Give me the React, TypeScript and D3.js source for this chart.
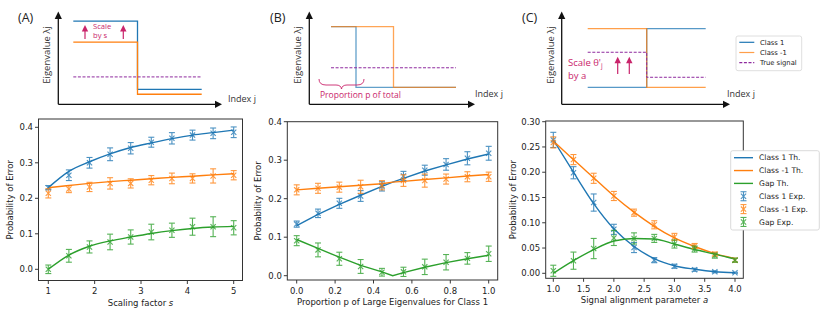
import { useEffect, useRef } from "react";
import * as d3 from "d3";

// ---------- panel A: scaling factor s ----------
const sVals = [1, 1.444, 1.889, 2.333, 2.778, 3.222, 3.667, 4.111, 4.556, 5];
const aClass1Th = [0.230, 0.276, 0.303, 0.325, 0.343, 0.356, 0.368, 0.378, 0.385, 0.392];
const aClass1Exp = [0.230, 0.265, 0.300, 0.324, 0.341, 0.358, 0.369, 0.378, 0.383, 0.386];
const aClass1Err = [0.006, 0.015, 0.015, 0.018, 0.016, 0.014, 0.016, 0.014, 0.015, 0.015];
const aClassM1Th = [0.230, 0.236, 0.242, 0.247, 0.251, 0.255, 0.259, 0.262, 0.266, 0.269];
const aClassM1Exp = [0.214, 0.226, 0.232, 0.242, 0.242, 0.251, 0.256, 0.256, 0.263, 0.265];
const aClassM1Err = [0.013, 0.010, 0.013, 0.016, 0.013, 0.013, 0.015, 0.013, 0.020, 0.013];
const aGapTh = [0.000, 0.040, 0.065, 0.080, 0.091, 0.101, 0.109, 0.115, 0.119, 0.121];
const aGapExp = [0.000, 0.038, 0.063, 0.077, 0.091, 0.105, 0.110, 0.120, 0.120, 0.117];
const aGapErr = [0.012, 0.018, 0.017, 0.022, 0.020, 0.022, 0.020, 0.024, 0.028, 0.020];

// ---------- panel B: proportion p ----------
const pVals = [0, 0.111, 0.222, 0.333, 0.444, 0.556, 0.667, 0.778, 0.889, 1];
const pThVals = [0, 0.111, 0.222, 0.333, 0.444, 0.5, 0.556, 0.667, 0.778, 0.889, 1];
const bClass1Th = [0.130, 0.159, 0.185, 0.209, 0.232, 0.243, 0.253, 0.272, 0.288, 0.303, 0.316];
const bClassM1Th = [0.223, 0.227, 0.231, 0.235, 0.239, 0.243, 0.245, 0.250, 0.254, 0.259, 0.263];
const bGapTh = [0.094, 0.071, 0.048, 0.027, 0.010, 0.000, 0.008, 0.022, 0.034, 0.044, 0.053];
const bClass1Exp = [0.134, 0.162, 0.188, 0.207, 0.232, 0.259, 0.274, 0.289, 0.305, 0.318];
const bClass1Err = [0.008, 0.011, 0.013, 0.014, 0.012, 0.012, 0.013, 0.015, 0.017, 0.018];
const bClassM1Exp = [0.223, 0.227, 0.230, 0.231, 0.235, 0.247, 0.247, 0.251, 0.257, 0.257];
const bClassM1Err = [0.013, 0.013, 0.013, 0.017, 0.012, 0.015, 0.017, 0.013, 0.013, 0.012];
const bGapExp = [0.091, 0.067, 0.044, 0.024, 0.009, 0.010, 0.023, 0.035, 0.045, 0.057];
const bGapErr = [0.013, 0.018, 0.017, 0.018, 0.010, 0.012, 0.020, 0.020, 0.015, 0.020];

// ---------- panel C: signal alignment a ----------
const aVals = [1, 1.333, 1.667, 2, 2.333, 2.667, 3, 3.333, 3.667, 4];
const cClass1Th = [0.264, 0.200, 0.138, 0.088, 0.053, 0.029, 0.015, 0.008, 0.003, 0.001];
const cClass1Exp = [0.264, 0.199, 0.140, 0.087, 0.051, 0.026, 0.014, 0.007, 0.003, 0.001];
const cClass1Err = [0.015, 0.012, 0.017, 0.010, 0.010, 0.005, 0.004, 0.003, 0.002, 0.001];
const cClassM1Th = [0.262, 0.225, 0.189, 0.153, 0.121, 0.093, 0.070, 0.053, 0.039, 0.029];
const cClassM1Exp = [0.259, 0.225, 0.188, 0.153, 0.120, 0.096, 0.072, 0.054, 0.038, 0.026];
const cClassM1Err = [0.011, 0.010, 0.010, 0.009, 0.007, 0.008, 0.007, 0.005, 0.004, 0.004];
const cGapTh = [0.000, 0.025, 0.047, 0.064, 0.069, 0.068, 0.058, 0.047, 0.038, 0.028];
const cGapExp = [0.005, 0.025, 0.049, 0.070, 0.069, 0.069, 0.058, 0.048, 0.035, 0.026];
const cGapErr = [0.011, 0.017, 0.020, 0.015, 0.011, 0.008, 0.008, 0.006, 0.005, 0.004];

// ticks
const aXTicks = [1, 2, 3, 4, 5];
const bXTicks = [0, 0.2, 0.4, 0.6, 0.8, 1.0];
const cXTicks = [1, 1.5, 2, 2.5, 3, 3.5, 4];
const abYTicks = [0, 0.1, 0.2, 0.3, 0.4];
const cYTicks = [0, 0.05, 0.1, 0.15, 0.2, 0.25, 0.3];

const legendLabels = ["Class 1 Th.", "Class -1 Th.", "Gap Th.", "Class 1 Exp.", "Class -1 Exp.", "Gap Exp."];
const schemLegend = ["Class 1", "Class -1", "True signal"];

// schematic step shapes (index fraction, eigenvalue 0..100)
const stepHalf = [0, 0.5, 0.5, 1];
const stepP = [0, 0.2, 0.2, 1];
const flat = [0, 1];
const schA1 = [91, 91, 16.4, 16.4];
const schAm1 = [68, 68, 11, 11];
const schASig = [30, 30];
const schB1 = [85, 85, 18.6, 18.6];
const schBm1 = [85, 85, 18.6, 18.6];
const schBSig = [40, 40];
const schC1 = [18.6, 18.6, 82.8, 82.8];
const schCm1 = [82.8, 82.8, 18.6, 18.6];
const schCSig = [57, 57, 29.6, 29.6];

const BLUE = "#1f77b4", ORANGE = "#ff7f0e", GREEN = "#2ca02c";
const CRIMSON = "#c9246b";
const PURPLE = "#8e2a9e";
const FONT = "DejaVu Sans";
const SFONT = "Open Sans";

function drawPanel(svg: any, p: any) {
  const g = svg.append("g");
  const x = d3.scaleLinear().domain(p.xDom).range(p.xRange);
  const y = d3.scaleLinear().domain(p.yDom).range(p.yRange);
  const [fl, fr, ft, fb] = p.frame;

  p.xTicks.forEach((t: number) => {
    g.append("line").attr("x1", x(t)).attr("x2", x(t)).attr("y1", fb).attr("y2", fb + 3.5)
      .attr("stroke", "#222").attr("stroke-width", 0.9);
    g.append("text").attr("x", x(t)).attr("y", fb + 13.5).attr("text-anchor", "middle")
      .attr("font-family", FONT).attr("font-size", 8.5).attr("fill", "#222").text(d3.format(p.xFmt)(t));
  });
  p.yTicks.forEach((t: number) => {
    g.append("line").attr("x1", fl - 3.5).attr("x2", fl).attr("y1", y(t)).attr("y2", y(t))
      .attr("stroke", "#222").attr("stroke-width", 0.9);
    g.append("text").attr("x", fl - 5.5).attr("y", y(t) + 3).attr("text-anchor", "end")
      .attr("font-family", FONT).attr("font-size", 8.5).attr("fill", "#222").text(d3.format(p.yFmt)(t));
  });
  const xl = g.append("text").attr("x", (fl + fr) / 2).attr("y", fb + 25).attr("text-anchor", "middle")
    .attr("font-family", FONT).attr("font-size", 8.5).attr("fill", "#222");
  xl.append("tspan").text(p.xLabel);
  if (p.xLabelVar) xl.append("tspan").attr("font-style", "italic").text(p.xLabelVar);
  g.append("text").attr("transform", `translate(${p.yLabelX},${(ft + fb) / 2}) rotate(-90)`)
    .attr("text-anchor", "middle").attr("font-family", FONT).attr("font-size", 8.5).attr("fill", "#222")
    .text("Probability of Error");

  p.series.forEach((s: any) => {
    const line = d3.line<number>().x((d, i) => x(s.thX[i])).y(d => y(d)).curve(p.curve);
    g.append("path").attr("d", line(s.th)).attr("fill", "none").attr("stroke", s.color).attr("stroke-width", 1.4);
  });
  p.series.forEach((s: any) => {
    const eg = g.append("g").attr("stroke", s.color).attr("stroke-width", 1.1).attr("opacity", 0.8);
    s.exp.forEach((v: number, i: number) => {
      const cx = x(p.expX[i]);
      const yt = y(v + s.err[i]), yb = y(v - s.err[i]), cy = y(v);
      eg.append("line").attr("x1", cx).attr("x2", cx).attr("y1", yt).attr("y2", yb);
      eg.append("line").attr("x1", cx - 3).attr("x2", cx + 3).attr("y1", yt).attr("y2", yt);
      eg.append("line").attr("x1", cx - 3).attr("x2", cx + 3).attr("y1", yb).attr("y2", yb);
      eg.append("line").attr("x1", cx - 2.6).attr("x2", cx + 2.6).attr("y1", cy - 2.6).attr("y2", cy + 2.6);
      eg.append("line").attr("x1", cx - 2.6).attr("x2", cx + 2.6).attr("y1", cy + 2.6).attr("y2", cy - 2.6);
    });
  });

  g.append("rect").attr("x", fl).attr("y", ft).attr("width", fr - fl).attr("height", fb - ft)
    .attr("fill", "none").attr("stroke", "#333").attr("stroke-width", 1);
}

function drawSchematic(svg: any, p: any) {
  const g = svg.append("g");
  const x = d3.scaleLinear().domain([0, 1]).range(p.xRange);
  const y = d3.scaleLinear().domain([0, 100]).range([104.3, 13]);
  const [ox, oy] = [p.axisX, 104.3];
  // axes arrows
  g.append("line").attr("x1", ox).attr("x2", ox).attr("y1", oy).attr("y2", 18).attr("stroke", "#111").attr("stroke-width", 1.3);
  g.append("path").attr("d", `M${ox - 3.6},19 L${ox},11.5 L${ox + 3.6},19 Z`).attr("fill", "#111");
  g.append("line").attr("x1", ox).attr("x2", p.tipX - 5).attr("y1", oy).attr("y2", oy).attr("stroke", "#111").attr("stroke-width", 1.3);
  g.append("path").attr("d", `M${p.tipX - 7},${oy - 3.6} L${p.tipX},${oy} L${p.tipX - 7},${oy + 3.6} Z`).attr("fill", "#111");

  g.append("text").attr("x", p.labelX).attr("y", 22).attr("font-family", SFONT).attr("font-size", 12.5)
    .attr("fill", "#222").text(p.tag);
  g.append("text").attr("transform", `translate(${ox - 8},55) rotate(-90)`).attr("text-anchor", "middle")
    .attr("font-family", SFONT).attr("font-size", 9.5).attr("fill", "#333").text("Eigenvalue λj");
  g.append("text").attr("x", p.indexX).attr("y", p.indexY).attr("font-family", SFONT).attr("font-size", 9)
    .attr("fill", "#333").text("Index j");

  const line = (xs: number[]) => d3.line<number>().x((d, i) => x(xs[i])).y(d => y(d));
  g.append("path").attr("d", line(p.x1)(p.c1)).attr("fill", "none").attr("stroke", BLUE).attr("stroke-width", 1.3).attr("opacity", p.alpha);
  g.append("path").attr("d", line(p.xm1)(p.cm1)).attr("fill", "none").attr("stroke", ORANGE).attr("stroke-width", 1.3).attr("opacity", p.alpha);
  g.append("path").attr("d", line(p.xs)(p.sig)).attr("fill", "none").attr("stroke", PURPLE).attr("stroke-width", 1)
    .attr("stroke-dasharray", "3,1.6");
  return g;
}

function upArrow(g: any, cx: number, tip: number, base: number) {
  g.append("line").attr("x1", cx).attr("x2", cx).attr("y1", base).attr("y2", tip + 5).attr("stroke", CRIMSON).attr("stroke-width", 1.2);
  g.append("path").attr("d", `M${cx - 3.2},${tip + 6.5} L${cx},${tip} L${cx + 3.2},${tip + 6.5} Z`).attr("fill", CRIMSON);
}

const App = () => {
  const svgRef = useRef<SVGSVGElement>(null);

  useEffect(() => {
    const svg = d3.select(svgRef.current);
    svg.selectAll("*").remove();
    svg.append("rect").attr("width", 830).attr("height", 319).attr("fill", "white");

    // schematics
    const gA = drawSchematic(svg, {
      xRange: [73.3, 201.7], axisX: 58.3, tipX: 222, tag: "(A)", labelX: 18, indexX: 228, indexY: 102,
      x1: stepHalf, c1: schA1, xm1: stepHalf, cm1: schAm1, xs: flat, sig: schASig, alpha: 1,
    });
    upArrow(gA, 85, 25, 39);
    upArrow(gA, 123.3, 25, 39);
    gA.append("text").attr("x", 93).attr("y", 29).attr("font-family", SFONT).attr("font-size", 7.6).attr("fill", CRIMSON).text("Scale");
    gA.append("text").attr("x", 93).attr("y", 38.2).attr("font-family", SFONT).attr("font-size", 7.6).attr("fill", CRIMSON).text("by s");

    const gB = drawSchematic(svg, {
      xRange: [331, 456], axisX: 309.3, tipX: 475, tag: "(B)", labelX: 270, indexX: 475, indexY: 97,
      x1: stepP, c1: schB1, xm1: stepHalf, cm1: schBm1, xs: flat, sig: schBSig, alpha: 0.7,
    });
    gB.append("path").attr("d", "M319,79 Q319,85 326,85 L336,85 Q341,85 341.5,89 Q342,85 347,85 L357,85 Q364,85 364,79")
      .attr("fill", "none").attr("stroke", CRIMSON).attr("stroke-width", 0.9);
    gB.append("text").attr("x", 320).attr("y", 97.5).attr("font-family", SFONT).attr("font-size", 8.5).attr("fill", CRIMSON).text("Proportion p of total");

    const gC = drawSchematic(svg, {
      xRange: [587.7, 705.7], axisX: 561.7, tipX: 730, tag: "(C)", labelX: 522, indexX: 727, indexY: 96.5,
      x1: stepHalf, c1: schC1, xm1: stepHalf, cm1: schCm1, xs: stepHalf, sig: schCSig, alpha: 0.75,
    });
    upArrow(gC, 617.7, 56.7, 74);
    upArrow(gC, 629.3, 56.7, 74);
    const sc = gC.append("text").attr("x", 568).attr("y", 66).attr("font-family", SFONT).attr("font-size", 9.5).attr("fill", CRIMSON);
    sc.append("tspan").text("Scale θ'");
    sc.append("tspan").attr("font-size", 6.5).attr("dy", 2).text("j");
    gC.append("text").attr("x", 568).attr("y", 78.8).attr("font-family", SFONT).attr("font-size", 9.5).attr("fill", CRIMSON).text("by a");

    // schematic legend
    const lg = svg.append("g");
    lg.append("rect").attr("x", 736).attr("y", 36).attr("width", 65.7).attr("height", 34.7).attr("rx", 2)
      .attr("fill", "white").attr("stroke", "#d5d5d5").attr("stroke-width", 0.8);
    const schColors = [BLUE, ORANGE, PURPLE];
    schemLegend.forEach((lab, i) => {
      const yy = 42.3 + i * 10.2;
      lg.append("line").attr("x1", 739.3).attr("x2", 754.3).attr("y1", yy).attr("y2", yy)
        .attr("stroke", schColors[i]).attr("stroke-width", 1.2).attr("opacity", i === 1 ? 0.75 : 1)
        .attr("stroke-dasharray", i === 2 ? "3,1.6" : null);
      lg.append("text").attr("x", 760).attr("y", yy + 2.4).attr("font-family", FONT).attr("font-size", 6.8)
        .attr("fill", "#222").text(lab);
    });

    // data panels
    drawPanel(svg, {
      frame: [38.5, 242.5, 119, 280.5], xDom: [1, 5], xRange: [48.3, 233.7], yDom: [0, 0.4], yRange: [269.3, 127.3],
      xTicks: aXTicks, yTicks: abYTicks, xFmt: "d", yFmt: ".1f", xLabel: "Scaling factor ", xLabelVar: "s", yLabelX: 13,
      curve: d3.curveMonotoneX, expX: sVals,
      series: [
        { color: BLUE, thX: sVals, th: aClass1Th, exp: aClass1Exp, err: aClass1Err },
        { color: ORANGE, thX: sVals, th: aClassM1Th, exp: aClassM1Exp, err: aClassM1Err },
        { color: GREEN, thX: sVals, th: aGapTh, exp: aGapExp, err: aGapErr },
      ],
    });
    drawPanel(svg, {
      frame: [287.3, 497.7, 121.7, 280], xDom: [0, 1], xRange: [296.7, 488.7], yDom: [0, 0.4], yRange: [275.7, 121.7],
      xTicks: bXTicks, yTicks: abYTicks, xFmt: ".1f", yFmt: ".1f", xLabel: "Proportion p of Large Eigenvalues for Class 1", yLabelX: 261,
      curve: d3.curveLinear, expX: pVals,
      series: [
        { color: BLUE, thX: pThVals, th: bClass1Th, exp: bClass1Exp, err: bClass1Err },
        { color: ORANGE, thX: pThVals, th: bClassM1Th, exp: bClassM1Exp, err: bClassM1Err },
        { color: GREEN, thX: pThVals, th: bGapTh, exp: bGapExp, err: bGapErr },
      ],
    });
    drawPanel(svg, {
      frame: [545.7, 743.3, 121, 278.3], xDom: [1, 4], xRange: [553.3, 735], yDom: [0, 0.3], yRange: [273.3, 121.7],
      xTicks: cXTicks, yTicks: cYTicks, xFmt: ".1f", yFmt: ".2f", xLabel: "Signal alignment parameter ", xLabelVar: "a", yLabelX: 516,
      curve: d3.curveMonotoneX, expX: aVals,
      series: [
        { color: BLUE, thX: aVals, th: cClass1Th, exp: cClass1Exp, err: cClass1Err },
        { color: ORANGE, thX: aVals, th: cClassM1Th, exp: cClassM1Exp, err: cClassM1Err },
        { color: GREEN, thX: aVals, th: cGapTh, exp: cGapExp, err: cGapErr },
      ],
    });

    // results legend
    const rg = svg.append("g");
    rg.append("rect").attr("x", 730.7).attr("y", 150.7).attr("width", 88.6).attr("height", 79.3).attr("rx", 2)
      .attr("fill", "white").attr("stroke", "#d0d0d0").attr("stroke-width", 0.8);
    const resColors = [BLUE, ORANGE, GREEN, BLUE, ORANGE, GREEN];
    legendLabels.forEach((lab, i) => {
      const yy = 157.7 + i * 12.85;
      if (i < 3) {
        rg.append("line").attr("x1", 734).attr("x2", 753).attr("y1", yy).attr("y2", yy)
          .attr("stroke", resColors[i]).attr("stroke-width", 1.4);
      } else {
        const eg = rg.append("g").attr("stroke", resColors[i]).attr("stroke-width", 1.1).attr("opacity", 0.8);
        const cx = 743.5;
        eg.append("line").attr("x1", cx).attr("x2", cx).attr("y1", yy - 4.5).attr("y2", yy + 4.5);
        eg.append("line").attr("x1", cx - 3).attr("x2", cx + 3).attr("y1", yy - 4.5).attr("y2", yy - 4.5);
        eg.append("line").attr("x1", cx - 3).attr("x2", cx + 3).attr("y1", yy + 4.5).attr("y2", yy + 4.5);
        eg.append("line").attr("x1", cx - 2.6).attr("x2", cx + 2.6).attr("y1", yy - 2.6).attr("y2", yy + 2.6);
        eg.append("line").attr("x1", cx - 2.6).attr("x2", cx + 2.6).attr("y1", yy + 2.6).attr("y2", yy - 2.6);
      }
      rg.append("text").attr("x", 759).attr("y", yy + 2.7).attr("font-family", FONT).attr("font-size", 7.6)
        .attr("fill", "#222").text(lab);
    });
  }, []);

  return (
    <svg ref={svgRef} width={830} height={319} style={{ position: "absolute", left: 0, top: 0 }}></svg>
  );
};

export default App;
